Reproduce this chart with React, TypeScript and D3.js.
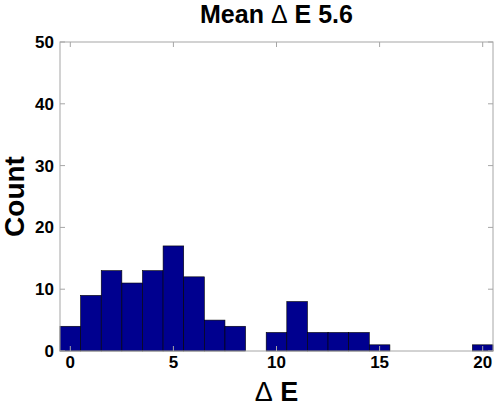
import React from "react";
import * as d3 from "d3";

const binCenters = [0, 1, 2, 3, 4, 5, 6, 7, 8, 9, 10, 11, 12, 13, 14, 15, 16, 17, 18, 19, 20];
const counts = [4, 9, 13, 11, 13, 17, 12, 5, 4, 0, 3, 8, 3, 3, 3, 1, 0, 0, 0, 0, 1];
const xTicks = [0, 5, 10, 15, 20];
const yTicks = [0, 10, 20, 30, 40, 50];
const titlePre = "Mean ";
const delta = "\u0394";
const titlePost = " E 5.6";
const xLabelPost = " E";
const yLabel = "Count";

export default function App() {
  const W = 496, H = 407;
  const left = 60, right = 493, top = 42, bottom = 351;
  const x = d3.scaleLinear().domain([-0.5, 20.5]).range([left, right]);
  const y = d3.scaleLinear().domain([0, 50]).range([bottom, top]);
  const axisColor = "#a6a6a6";
  const font = "'Liberation Sans', Arial, Helvetica, sans-serif";
  const tl = 5;
  return (
    <svg width={W} height={H} style={{ position: "absolute", left: 0, top: 0, background: "#fff" }} fontFamily={font}>
      <rect x={0} y={0} width={W} height={H} fill="#fff" />
      {binCenters.map((c, i) =>
        counts[i] > 0 ? (
          <rect key={i} x={x(c - 0.5)} y={y(counts[i])} width={x(c + 0.5) - x(c - 0.5)} height={y(0) - y(counts[i])}
            fill="#00008f" stroke="#000" strokeWidth={0.6} />
        ) : null
      )}
      <rect x={left} y={top} width={right - left} height={bottom - top} fill="none" stroke={axisColor} strokeWidth={1} />
      {xTicks.map((t) => (
        <g key={"x" + t}>
          <line x1={x(t)} x2={x(t)} y1={bottom} y2={bottom - tl} stroke={axisColor} />
          <line x1={x(t)} x2={x(t)} y1={top} y2={top + tl} stroke={axisColor} />
          <text x={x(t)} y={368} textAnchor="middle" fontSize={17} fontWeight="bold" fill="#000">{t}</text>
        </g>
      ))}
      {yTicks.map((t) => (
        <g key={"y" + t}>
          <line x1={left} x2={left + tl} y1={y(t)} y2={y(t)} stroke={axisColor} />
          <line x1={right} x2={right - tl} y1={y(t)} y2={y(t)} stroke={axisColor} />
          <text x={54} y={y(t) + 6} textAnchor="end" fontSize={17} fontWeight="bold" fill="#000">{t}</text>
        </g>
      ))}
      <text x={(left + right) / 2} y={23} textAnchor="middle" fontSize={25} fontWeight="bold" fill="#000">
        {titlePre}<tspan fontWeight="normal">{delta}</tspan>{titlePost}
      </text>
      <text x={(left + right) / 2} y={401} textAnchor="middle" fontSize={27} fontWeight="bold" fill="#000">
        <tspan fontWeight="normal">{delta}</tspan>{xLabelPost}
      </text>
      <text transform={`translate(24,${(top + bottom) / 2}) rotate(-90)`} textAnchor="middle" fontSize={28} fontWeight="bold" fill="#000">{yLabel}</text>
    </svg>
  );
}
